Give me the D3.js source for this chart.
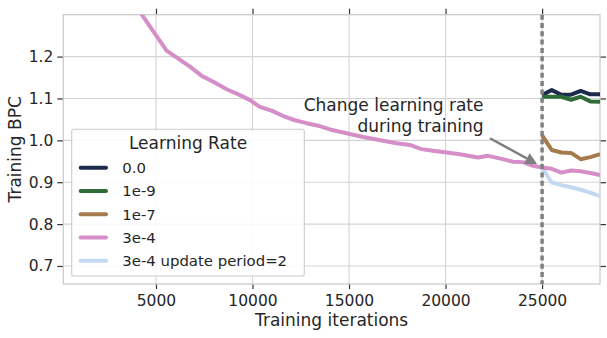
<!DOCTYPE html>
<html><head><meta charset="utf-8">
<script src="https://cdn.jsdelivr.net/npm/d3@7/dist/d3.min.js"></script>
<style>
html,body{margin:0;padding:0;background:#fff;}
svg{display:block;font-family:"DejaVu Sans",sans-serif;}
</style></head>
<body><svg id="chart" width="607" height="338"></svg>
<script>
// ---- data ----
const seriesNames = ["0.0", "1e-9", "1e-7", "3e-4", "3e-4 update period=2"];
const seriesColors = ["#1c2b4b", "#2e6c37", "#a67b4c", "#d58ec8", "#c3d9f2"];
const mainIters = [4000, 5550, 6760, 7370, 7970, 8660, 9350, 9870, 10380, 10990, 11590, 12200, 12800, 13400, 14010, 14870, 15730, 16770, 17460, 18150, 18750, 19350, 20050, 20740, 21680, 22200, 22800, 23490, 24010, 24530, 25000, 25500, 26000, 26500, 27000, 27500, 28000];
const mainBPC = [1.318, 1.214, 1.176, 1.154, 1.140, 1.122, 1.108, 1.096, 1.080, 1.071, 1.058, 1.048, 1.041, 1.035, 1.026, 1.017, 1.008, 0.999, 0.993, 0.989, 0.979, 0.975, 0.971, 0.967, 0.959, 0.963, 0.957, 0.949, 0.948, 0.939, 0.935, 0.932, 0.923, 0.928, 0.926, 0.922, 0.917];
const branchIters = [25000, 25500, 26000, 26500, 27000, 27500, 28000];
const lr0BPC = [1.108, 1.120, 1.109, 1.109, 1.118, 1.110, 1.110];
const lr1e9BPC = [1.104, 1.104, 1.104, 1.097, 1.104, 1.093, 1.092];
const lr1e7BPC = [1.012, 0.977, 0.971, 0.970, 0.955, 0.960, 0.967];
const period2BPC = [0.935, 0.899, 0.893, 0.888, 0.882, 0.875, 0.867];
const xTicks = [5000, 10000, 15000, 20000, 25000];
const yTicks = [0.7, 0.8, 0.9, 1.0, 1.1, 1.2];
const changeIter = 25000;
const annotationLines = ["Change learning rate", "during training"];
const arrowFrom = [22300, 1.005];
const arrowTo = [24750, 0.943];

// ---- layout ----
const svg = d3.select("#chart");
const L = 63.3, R = 600, T = 14.7, B = 284;
const x = d3.scaleLinear().domain([200, 28000]).range([L, R]);
const y = d3.scaleLinear().domain([0.657, 1.300]).range([B, T]);

svg.append("defs").append("clipPath").attr("id", "clip")
  .append("rect").attr("x", L).attr("y", T).attr("width", R - L).attr("height", B - T);

// grid
const grid = svg.append("g");
grid.selectAll(".gx").data(xTicks).join("line")
  .attr("x1", d => x(d)).attr("x2", d => x(d)).attr("y1", T).attr("y2", B)
  .attr("stroke", "#d3d3d3").attr("stroke-width", 1.1);
grid.selectAll(".gy").data(yTicks).join("line")
  .attr("y1", d => y(d)).attr("y2", d => y(d)).attr("x1", L).attr("x2", R)
  .attr("stroke", "#d3d3d3").attr("stroke-width", 1.1);

// axes
const fs = "15.5px";
const axB = svg.append("g").attr("transform", `translate(0,${B})`)
  .call(d3.axisBottom(x).tickValues(xTicks).tickSize(5).tickPadding(6).tickFormat(d3.format("d")));
const axT = svg.append("g").attr("transform", `translate(0,${T})`)
  .call(d3.axisTop(x).tickValues(xTicks).tickSize(6).tickFormat(""));
const axL = svg.append("g").attr("transform", `translate(${L},0)`)
  .call(d3.axisLeft(y).tickValues(yTicks).tickSize(6).tickPadding(4).tickFormat(d3.format(".1f")));
const axR = svg.append("g").attr("transform", `translate(${R},0)`)
  .call(d3.axisRight(y).tickValues(yTicks).tickSize(6).tickFormat(""));
[axB, axT, axL, axR].forEach(a => {
  a.select(".domain").remove();
  a.selectAll(".tick line").attr("stroke", "#333").attr("stroke-width", 1.2);
  a.selectAll("text").attr("fill", "#262626").style("font-size", fs).style("font-family", "DejaVu Sans");
});

// frame
svg.append("rect").attr("x", L).attr("y", T).attr("width", R - L).attr("height", B - T)
  .attr("fill", "none").attr("stroke", "#cccccc").attr("stroke-width", 1.3);

// axis titles
svg.append("text").attr("x", (L + R) / 2).attr("y", 326).attr("text-anchor", "middle")
  .attr("fill", "#262626").style("font-size", "17px").text("Training iterations");
svg.append("text").attr("transform", `translate(21,${(T + B) / 2}) rotate(-90)`)
  .attr("text-anchor", "middle").attr("fill", "#262626").style("font-size", "17px").text("Training BPC");

// lines
const line = d3.line().x(d => x(d[0])).y(d => y(d[1]));
const series = [
  branchIters.map((t, i) => [t, lr0BPC[i]]),
  branchIters.map((t, i) => [t, lr1e9BPC[i]]),
  branchIters.map((t, i) => [t, lr1e7BPC[i]]),
  mainIters.map((t, i) => [t, mainBPC[i]]),
  branchIters.map((t, i) => [t, period2BPC[i]])
];
const lg = svg.append("g").attr("clip-path", "url(#clip)");
[4, 3, 0, 1, 2].forEach(i => {
  lg.append("path").attr("d", line(series[i])).attr("fill", "none")
    .attr("stroke", seriesColors[i]).attr("stroke-width", 4)
    .attr("stroke-linejoin", "round").attr("stroke-linecap", "butt");
});

// vertical dashed line
svg.append("line").attr("x1", x(changeIter)).attr("x2", x(changeIter)).attr("y1", T).attr("y2", B)
  .attr("stroke", "#808080").attr("stroke-width", 3.5).attr("stroke-dasharray", "5,3.3");

// annotation
annotationLines.forEach((s, i) => {
  svg.append("text").attr("x", 483.5).attr("y", 111 + i * 20.5).attr("text-anchor", "end")
    .attr("fill", "#262626").style("font-size", "17px").text(s);
});
const ax0 = x(arrowFrom[0]), ay0 = y(arrowFrom[1]), ax1 = x(arrowTo[0]), ay1 = y(arrowTo[1]);
const ang = Math.atan2(ay1 - ay0, ax1 - ax0);
const hl = 12, hw = 6;
const bx = ax1 - hl * Math.cos(ang), by = ay1 - hl * Math.sin(ang);
svg.append("line").attr("x1", ax0).attr("y1", ay0).attr("x2", bx).attr("y2", by)
  .attr("stroke", "#808080").attr("stroke-width", 2.5);
svg.append("path").attr("d", `M${ax1},${ay1}L${bx - hw * Math.sin(ang)},${by + hw * Math.cos(ang)}L${bx + hw * Math.sin(ang)},${by - hw * Math.cos(ang)}Z`)
  .attr("fill", "#808080");

// legend
const leg = svg.append("g");
leg.append("rect").attr("x", 71.7).attr("y", 129.3).attr("width", 232.6).attr("height", 146.7)
  .attr("rx", 2).attr("fill", "#fff").attr("fill-opacity", 0.85).attr("stroke", "#cccccc").attr("stroke-width", 1.1);
leg.append("text").attr("x", 188).attr("y", 149).attr("text-anchor", "middle")
  .attr("fill", "#262626").style("font-size", "17px").text("Learning Rate");
seriesNames.forEach((n, i) => {
  const cy = 167.7 + i * 23.25;
  leg.append("line").attr("x1", 80.7).attr("x2", 106).attr("y1", cy).attr("y2", cy)
    .attr("stroke", seriesColors[i]).attr("stroke-width", 4).attr("stroke-linecap", "round");
  leg.append("text").attr("x", 122.3).attr("y", cy + 5.4).attr("fill", "#262626")
    .style("font-size", "14.9px").text(n);
});
</script></body></html>
